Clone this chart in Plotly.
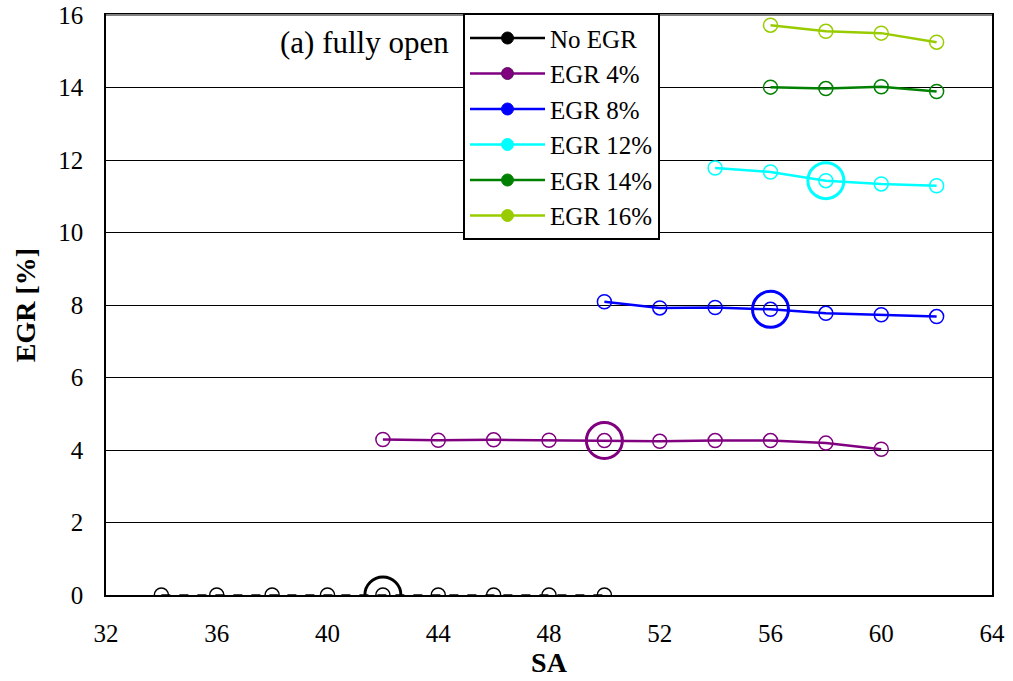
import plotly.graph_objects as go

series_names = ["No EGR", "EGR 4%", "EGR 8%", "EGR 12%", "EGR 14%", "EGR 16%"]
colors = ["#000000", "#800080", "#0000FF", "#00FFFF", "#008000", "#99CC00"]

sa_noegr = [34, 36, 38, 40, 42, 44, 46, 48, 50]
egr_noegr = [0, 0, 0, 0, 0, 0, 0, 0, 0]

sa_egr4 = [42, 44, 46, 48, 50, 52, 54, 56, 58, 60]
egr_egr4 = [4.29, 4.27, 4.28, 4.27, 4.26, 4.24, 4.26, 4.26, 4.19, 4.02]

sa_egr8 = [50, 52, 54, 56, 58, 60, 62]
egr_egr8 = [8.09, 7.92, 7.93, 7.88, 7.77, 7.73, 7.68]

sa_egr12 = [54, 56, 58, 60, 62]
egr_egr12 = [11.78, 11.67, 11.43, 11.34, 11.29]

sa_egr14 = [56, 58, 60, 62]
egr_egr14 = [14.01, 13.97, 14.02, 13.89]

sa_egr16 = [56, 58, 60, 62]
egr_egr16 = [15.72, 15.55, 15.5, 15.25]

# highlighted (optimum) points
opt_sa = [42, 50, 56, 58]
opt_egr = [0, 4.26, 7.88, 11.43]
opt_colors = ["#000000", "#800080", "#0000FF", "#00FFFF"]

xs = [sa_noegr, sa_egr4, sa_egr8, sa_egr12, sa_egr14, sa_egr16]
ys = [egr_noegr, egr_egr4, egr_egr8, egr_egr12, egr_egr14, egr_egr16]

SERIF = "Liberation Serif, Times New Roman, serif"

fig = go.Figure()
for i, (name, c, x, y) in enumerate(zip(series_names, colors, xs, ys)):
    fig.add_trace(go.Scatter(
        x=x, y=y, mode="lines+markers", name=name, showlegend=False,
        line=dict(color=c, width=1.5 if i == 0 else 2.5,
                  dash="dash" if i == 0 else "solid"),
        marker=dict(symbol="circle-open", size=14, color=c, line=dict(width=1.5)),
    ))
    # legend entry with filled marker
    fig.add_trace(go.Scatter(
        x=[None], y=[None], mode="lines+markers", name=name,
        line=dict(color=c, width=2.5),
        marker=dict(symbol="circle", size=12, color=c,
                    line=dict(width=1, color=c if i != 1 else "#5a1a5a")),
    ))

fig.add_trace(go.Scatter(
    x=opt_sa, y=opt_egr, mode="markers", showlegend=False,
    marker=dict(symbol="circle-open", size=36, color=opt_colors,
                line=dict(width=3, color=opt_colors)),
))

fig.add_annotation(x=(278 - 106) / 886, y=1 - (43 - 15) / 580, xref="paper", yref="paper",
                   text="(a) fully open", showarrow=False, xanchor="left", yanchor="middle",
                   font=dict(family=SERIF, size=31, color="black"))

fig.add_shape(type="line", xref="paper", yref="paper", x0=0, x1=1, y0=1, y1=1,
              line=dict(color="#808080", width=2))

fig.update_layout(
    width=1013, height=681,
    margin=dict(l=106, r=21, t=15, b=86, autoexpand=False),
    paper_bgcolor="white", plot_bgcolor="white",
    font=dict(family=SERIF, size=25, color="black"),
    showlegend=True,
    legend=dict(x=(463 - 106) / 886, y=1.003, xanchor="left", yanchor="top",
                bgcolor="white", bordercolor="black", borderwidth=2,
                font=dict(family=SERIF, size=25),
                itemwidth=75, tracegroupgap=0, itemsizing="trace"),
    xaxis=dict(range=[32, 64], tickvals=[32, 36, 40, 44, 48, 52, 56, 60, 64],
               showgrid=False, zeroline=False, showline=True, linecolor="black", linewidth=1.5,
               mirror=True, ticks="", ticklen=0, ticklabelstandoff=15, automargin=False,
               tickfont=dict(family=SERIF, size=25),
               title=dict(text="<b>SA</b>", font=dict(family=SERIF, size=28), standoff=2)),
    yaxis=dict(range=[0, 16], tickvals=list(range(0, 17, 2)),
               showgrid=True, gridcolor="black", gridwidth=1.2, zeroline=False,
               showline=True, linecolor="black", linewidth=1.5, mirror=True, ticks="",
               ticklabelstandoff=16, automargin=False,
               tickfont=dict(family=SERIF, size=25),
               title=dict(text="<b>EGR [%]</b>", font=dict(family=SERIF, size=28), standoff=14)),
)

fig.write_html("out.html")
